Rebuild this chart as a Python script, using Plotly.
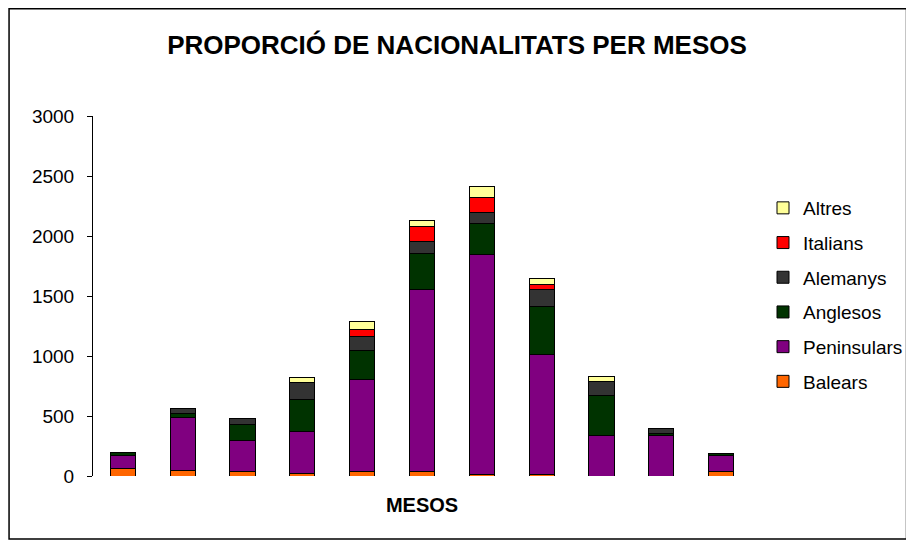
import plotly.graph_objects as go

months = ["Gener", "Febrer", "Març", "Abril", "Maig", "Juny", "Juliol",
          "Agost", "Setembre", "Octubre", "Novembre"]
balears = [65, 50, 40, 22, 35, 35, 12, 10, 0, 0, 40]
peninsulars = [110, 435, 260, 350, 770, 1520, 1835, 1000, 335, 335, 135]
anglesos = [20, 40, 130, 265, 240, 297, 255, 405, 333, 22, 12]
alemanys = [0, 38, 50, 145, 115, 100, 97, 142, 118, 42, 0]
italians = [0, 0, 0, 0, 60, 125, 125, 42, 0, 0, 0]
altres = [0, 0, 0, 40, 67, 55, 88, 44, 44, 0, 0]

series = [
    ("Balears", balears, "#FF6600"),
    ("Peninsulars", peninsulars, "#800080"),
    ("Anglesos", anglesos, "#003300"),
    ("Alemanys", alemanys, "#333333"),
    ("Italians", italians, "#FF0000"),
    ("Altres", altres, "#FFFF99"),
]

# page body adds an 8px offset; figure coordinates = screen - 8
W, H = 906, 536
L, R, T, B = 85, 161, 108, 68
pw, ph = W - L - R, H - T - B

fig = go.Figure()
n = len(series)
for i, (name, vals, col) in enumerate(series):
    fig.add_trace(go.Bar(
        x=months, y=vals, name=name, legendgroup=name,
        legendrank=1000 + (n - i),
        marker=dict(color=col, line=dict(color="black", width=1)),
    ))

def px_x(p):
    return (p - L) / pw

def px_y(p):
    return (H - B - p) / ph

fig.update_layout(
    width=W, height=H,
    margin=dict(l=L, r=R, t=T, b=B),
    barmode="stack", bargap=0.58,
    plot_bgcolor="white", paper_bgcolor="white",
    font=dict(family="Liberation Sans, Arial, sans-serif", color="black"),
    title=dict(text="<b>PROPORCIÓ DE NACIONALITATS PER MESOS</b>",
               x=(457 - 8) / W, xref="container", xanchor="center",
               y=1 - 37 / H, yref="container", yanchor="middle",
               font=dict(size=26, color="black")),
    xaxis=dict(showticklabels=False, showline=False, ticks="",
               showgrid=False, zeroline=False,
               title=dict(text="<b>MESOS</b>", font=dict(size=20), standoff=21)),
    yaxis=dict(range=[0, 3000], dtick=500, showline=True, linecolor="black",
               linewidth=1, ticks="outside", ticklen=5, tickcolor="black",
               ticklabelstandoff=9,
               showgrid=False, zeroline=False, tickfont=dict(size=19)),
    legend=dict(traceorder="grouped", tracegroupgap=7,
                x=755 / W, xref="container", xanchor="left",
                y=1 - 181 / H, yref="container", yanchor="top",
                font=dict(size=19), bgcolor="rgba(0,0,0,0)"),
    showlegend=True,
    shapes=[dict(type="rect", xref="paper", yref="paper",
                 x0=px_x(0.8), x1=px_x(901), y0=px_y(531), y1=px_y(0.8),
                 line=dict(color="black", width=1.5), fillcolor="rgba(0,0,0,0)")],
)

fig.write_html("out.html")
